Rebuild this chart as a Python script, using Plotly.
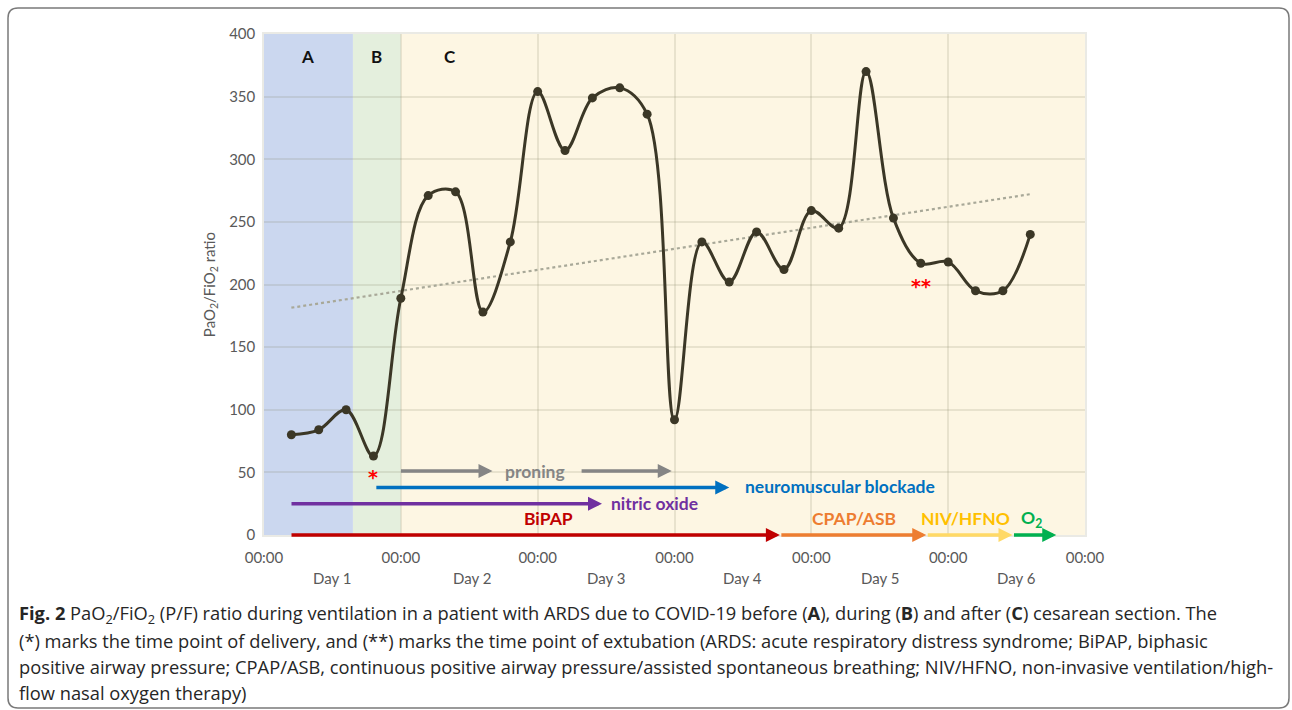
import numpy as np
import plotly.graph_objects as go

# ---------------- data ----------------
time_days = [0.2, 0.4, 0.6, 0.8, 1.0, 1.2, 1.4, 1.6, 1.8, 2.0, 2.2, 2.4, 2.6, 2.8,
             3.0, 3.2, 3.4, 3.6, 3.8, 4.0, 4.2, 4.4, 4.6, 4.8, 5.0, 5.2, 5.4, 5.6]
pf_ratio = [80, 84, 100, 63, 189, 271, 274, 178, 234, 354, 307, 349, 357, 336,
            92, 234, 202, 242, 212, 259, 245, 370, 253, 217, 218, 195, 195, 240]

phase_names = ["A", "B", "C"]
phase_start = [0.0, 0.65, 1.0]
phase_end = [0.65, 1.0, 6.0]
phase_colors = ["#cbd7ef", "#e4efdd", "#fdf6e3"]
phase_label_x = [0.32, 0.82, 1.36]

day_ticks = [0, 1, 2, 3, 4, 5, 6]
day_tick_text = ["00:00"] * 7
day_label_x = [0.5, 1.52, 2.5, 3.5, 4.5, 5.5]
day_label_text = ["Day 1", "Day 2", "Day 3", "Day 4", "Day 5", "Day 6"]

# therapy arrows: (start day, end day, y level, colour)
arrow_start = [0.99, 2.31, 0.81, 0.19, 0.19, 3.77, 4.84, 5.47]
arrow_end = [1.67, 2.98, 3.40, 2.47, 3.77, 4.84, 5.47, 5.79]
arrow_y = [51, 51, 38, 25, 0, 0, 0, 0]
arrow_color = ["#858585", "#858585", "#0070c0", "#7030a0", "#c00000", "#ed7d31", "#ffd966", "#00b050"]

# therapy labels
label_text = ["proning", "neuromuscular blockade", "nitric oxide", "BiPAP", "CPAP/ASB", "NIV/HFNO", "O<sub>2</sub>"]
label_x = [1.98, 3.50, 2.52, 2.08, 4.31, 5.13, 5.61]
label_y = [51, 39, 25, 13, 13, 13, 13]
label_anchor = ["center", "left", "left", "center", "center", "center", "center"]
label_color = ["#858585", "#0070c0", "#7030a0", "#c00000", "#ed7d31", "#ffc000", "#00b050"]

marker_text = ["*", "**"]
marker_x = [0.80, 4.80]
marker_y = [46, 199]

caption_lines = [
    "<b>Fig. 2</b> PaO<sub>2</sub>/FiO<sub>2</sub> (P/F) ratio during ventilation in a patient with ARDS due to COVID-19 before (<b>A</b>), during (<b>B</b>) and after (<b>C</b>) cesarean section. The",
    "(*) marks the time point of delivery, and (**) marks the time point of extubation (ARDS: acute respiratory distress syndrome; BiPAP, biphasic",
    "positive airway pressure; CPAP/ASB, continuous positive airway pressure/assisted spontaneous breathing; NIV/HFNO, non-invasive ventilation/high-",
    "flow nasal oxygen therapy)",
]

# ---------------- layout geometry (pixels) ----------------
W, H = 1292, 710
L, R, T, B = 264, 1085, 34, 535
PW, PH = R - L, B - T


def px(xp):
    return (xp - L) / PW


def py(yp):
    return (B - yp) / PH


FONT = "Lato"
GRAY = "#595959"

fig = go.Figure()

# trend line (linear regression)
slope, intercept = np.polyfit(time_days, pf_ratio, 1)
tx = np.array([time_days[0], time_days[-1]])
fig.add_trace(go.Scatter(x=tx, y=slope * tx + intercept, mode="lines",
                         line=dict(color="#a8a898", width=2.2, dash="dot"),
                         hoverinfo="skip", showlegend=False))

# main series
fig.add_trace(go.Scatter(x=time_days, y=pf_ratio, mode="lines+markers",
                         line=dict(color="#3b3726", width=3, shape="spline", smoothing=1.0),
                         marker=dict(color="#3b3726", size=9),
                         showlegend=False))

shapes = []
for s, e, c in zip(phase_start, phase_end, phase_colors):
    shapes.append(dict(type="rect", xref="x", yref="paper", x0=s, x1=e, y0=0, y1=1,
                       fillcolor=c, line=dict(width=0), layer="below"))

# outer rounded border
bx0, by0, bx1, by1, r = 8, 8, 1289, 708, 10
path = (f"M {px(bx0 + r)},{py(by0)} L {px(bx1 - r)},{py(by0)} Q {px(bx1)},{py(by0)} {px(bx1)},{py(by0 + r)} "
        f"L {px(bx1)},{py(by1 - r)} Q {px(bx1)},{py(by1)} {px(bx1 - r)},{py(by1)} "
        f"L {px(bx0 + r)},{py(by1)} Q {px(bx0)},{py(by1)} {px(bx0)},{py(by1 - r)} "
        f"L {px(bx0)},{py(by0 + r)} Q {px(bx0)},{py(by0)} {px(bx0 + r)},{py(by0)} Z")
shapes.append(dict(type="path", xref="paper", yref="paper", path=path,
                   line=dict(color="#7a7a7a", width=1.5), layer="above"))

annotations = []
for n, x in zip(phase_names, phase_label_x):
    annotations.append(dict(x=x, y=382, xref="x", yref="y", text=f"<b>{n}</b>", showarrow=False,
                            font=dict(family=FONT, size=17, color="#111111")))

for s, e, y, c in zip(arrow_start, arrow_end, arrow_y, arrow_color):
    annotations.append(dict(x=e, y=y, ax=s, ay=y, xref="x", yref="y", axref="x", ayref="y",
                            text="", showarrow=True, arrowhead=2, arrowsize=0.8, arrowwidth=3.5,
                            arrowcolor=c, standoff=0, startstandoff=0))

for t, x, y, a, c in zip(label_text, label_x, label_y, label_anchor, label_color):
    annotations.append(dict(x=x, y=y, xref="x", yref="y", text=f"<b>{t}</b>", showarrow=False,
                            xanchor=a, font=dict(family=FONT, size=17.5, color=c)))

for t, x, y in zip(marker_text, marker_x, marker_y):
    annotations.append(dict(x=x, y=y, xref="x", yref="y", text=f"<b>{t}</b>", showarrow=False,
                            font=dict(family="DejaVu Sans", size=19, color="#ff0000")))

for t, x in zip(day_label_text, day_label_x):
    annotations.append(dict(x=x, y=py(578), xref="x", yref="paper", text=t, showarrow=False,
                            yanchor="middle", font=dict(family=FONT, size=15, color=GRAY)))

for i, line in enumerate(caption_lines):
    annotations.append(dict(x=px(17), y=py(614 + 26 * i), xref="paper", yref="paper", text=line,
                            showarrow=False, xanchor="left", yanchor="middle", align="left",
                            font=dict(family="Open Sans", size=18.3, color="#262626")))

GRID = "rgba(128,128,100,0.17)"
fig.update_layout(
    width=W, height=H,
    margin=dict(l=L, r=W - R, t=T, b=H - B, pad=0),
    paper_bgcolor="white", plot_bgcolor="white",
    shapes=shapes, annotations=annotations,
    font=dict(family=FONT, color=GRAY),
    xaxis=dict(range=[0, 6], tickvals=day_ticks, ticktext=day_tick_text, showgrid=True,
               gridcolor=GRID, gridwidth=1.5, zeroline=False, showline=True, mirror=True,
               linecolor=GRID, linewidth=1.5, ticks="outside", ticklen=8,
               tickcolor="rgba(0,0,0,0)", tickfont=dict(family=FONT, size=15, color=GRAY)),
    yaxis=dict(range=[0, 400], dtick=50, showgrid=True, gridcolor=GRID, gridwidth=1.5,
               zeroline=False, showline=True, mirror=True, linecolor=GRID, linewidth=1.5,
               ticks="outside", ticklen=4, tickcolor="rgba(0,0,0,0)",
               tickfont=dict(family=FONT, size=15, color=GRAY),
               title=dict(text="PaO<sub>2</sub>/FiO<sub>2</sub> ratio", standoff=10,
                          font=dict(family=FONT, size=15, color=GRAY))),
)

fig.write_html("out.html", config={"displayModeBar": False},
               post_script="document.body.style.margin='0';document.body.style.overflow='hidden';")
